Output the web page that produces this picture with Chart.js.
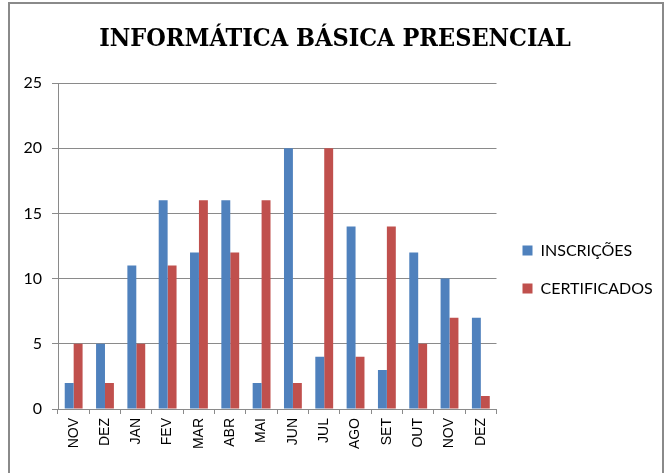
<!DOCTYPE html>
<html>
<head>
<meta charset="utf-8">
<script src="https://cdn.jsdelivr.net/npm/chart.js@4/dist/chart.umd.min.js"></script>
<style>
  body { margin: 0; background: #fff; }
  #wrap { position: absolute; left: 0; top: 0; width: 669px; height: 473px; }
</style>
</head>
<body>
<div id="wrap"><canvas id="chart" width="669" height="473"></canvas></div>
<script>
const months = ["NOV", "DEZ", "JAN", "FEV", "MAR", "ABR", "MAI", "JUN", "JUL", "AGO", "SET", "OUT", "NOV", "DEZ"];
const inscricoes = [2, 5, 11, 16, 12, 16, 2, 20, 4, 14, 3, 12, 10, 7];
const certificados = [5, 2, 5, 11, 16, 12, 16, 2, 20, 4, 14, 5, 7, 1];
const yTicks = [0, 5, 10, 15, 20, 25];

// frame around the chart, like the spreadsheet export
const framePlugin = {
  id: "frame",
  beforeDraw: (chart) => {
    const ctx = chart.ctx;
    ctx.save();
    ctx.fillStyle = "#fff";
    ctx.fillRect(0, 0, chart.width, chart.height);
    ctx.strokeStyle = "#8a8a8a";
    ctx.lineWidth = 2;
    ctx.strokeRect(9, 3, 654, 490);
    ctx.restore();
  },
  // push legend a little further from the plot
  afterLayout: (chart) => {
    chart.legend.left += 4;
    chart.legend.right += 4;
  }
};

const ctx = document.getElementById("chart").getContext("2d");
new Chart(ctx, {
  type: "bar",
  data: {
    labels: months,
    datasets: [
      { label: "INSCRIÇÕES", data: inscricoes, backgroundColor: "#4F81BD" },
      { label: "CERTIFICADOS", data: certificados, backgroundColor: "#C0504D" }
    ]
  },
  options: {
    responsive: false,
    animation: false,
    layout: { padding: { left: 12, right: 11, top: 0, bottom: 0 } },
    datasets: { bar: { categoryPercentage: 0.57, barPercentage: 1 } },
    plugins: {
      title: {
        display: true,
        text: "INFORMÁTICA BÁSICA PRESENCIAL",
        color: "#000",
        font: { family: "'DejaVu Serif Condensed', 'DejaVu Serif', serif", size: 25, weight: "bold" },
        padding: { top: 24, bottom: 29 }
      },
      legend: {
        position: "right",
        title: { display: true, text: " ", padding: 27, font: { size: 10 } },
        labels: {
          color: "#000",
          boxWidth: 10,
          boxHeight: 10,
          padding: 22,
          font: { family: "Lato, sans-serif", size: 16 }
        }
      },
      tooltip: { enabled: false }
    },
    scales: {
      x: {
        grid: { drawOnChartArea: false, drawTicks: true, tickLength: 5, color: "#8a8a8a" },
        border: { color: "#8a8a8a" },
        ticks: {
          color: "#000",
          minRotation: 90,
          maxRotation: 90,
          autoSkip: false,
          padding: 4,
          font: { family: "'Liberation Sans', Arial, sans-serif", size: 14 }
        },
        afterFit: (s) => { s.height = 64; }
      },
      y: {
        min: 0,
        max: 25,
        afterBuildTicks: (s) => { s.ticks = yTicks.map((v) => ({ value: v })); },
        grid: { color: "#8a8a8a", tickLength: 6 },
        border: { color: "#8a8a8a" },
        ticks: {
          color: "#000",
          padding: 10,
          font: { family: "Lato, sans-serif", size: 16 }
        },
        afterFit: (s) => { s.width = 46; }
      }
    }
  },
  plugins: [framePlugin]
});
</script>
</body>
</html>
